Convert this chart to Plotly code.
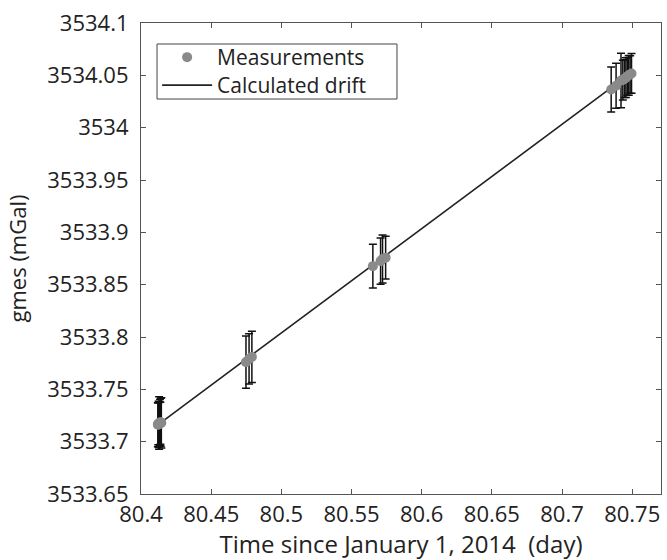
import plotly.graph_objects as go

# Gravity readings (mGal) with their standard deviations, grouped by occupation
t_occ1 = [80.4120, 80.4123, 80.4126, 80.4129, 80.4132, 80.4135, 80.4138, 80.4141, 80.4145]
g_occ1 = [3533.7162, 3533.7170, 3533.7165, 3533.7178, 3533.7172, 3533.7182, 3533.7176, 3533.7186, 3533.7180]
e_occ1 = [0.021, 0.020, 0.022, 0.025, 0.021, 0.022, 0.020, 0.023, 0.024]

t_occ2 = [80.4748, 80.4770, 80.4790]
g_occ2 = [3533.7760, 3533.7790, 3533.7810]
e_occ2 = [0.025, 0.024, 0.0245]

t_occ3 = [80.5652, 80.5707, 80.5721, 80.5743]
g_occ3 = [3533.8677, 3533.8725, 3533.8745, 3533.8758]
e_occ3 = [0.021, 0.022, 0.023, 0.0205]

t_occ4 = [80.7350, 80.7385, 80.7420, 80.7433, 80.7445, 80.7455, 80.7465, 80.7475, 80.7485, 80.7495]
g_occ4 = [3534.0365, 3534.0400, 3534.0450, 3534.0455, 3534.0468, 3534.0478, 3534.0490, 3534.0500, 3534.0508, 3534.0518]
e_occ4 = [0.0215, 0.0215, 0.026, 0.019, 0.018, 0.019, 0.018, 0.019, 0.018, 0.019]

# Linear drift line (end points)
drift_t = [80.4120, 80.7495]
drift_g = [3533.7161, 3534.0526]

x_tickvals = [80.4, 80.45, 80.5, 80.55, 80.6, 80.65, 80.7, 80.75]
x_ticktext = ["80.4", "80.45", "80.5", "80.55", "80.6", "80.65", "80.7", "80.75"]
y_tickvals = [3533.65, 3533.7, 3533.75, 3533.8, 3533.85, 3533.9, 3533.95, 3534.0, 3534.05, 3534.1]
y_ticktext = ["3533.65", "3533.7", "3533.75", "3533.8", "3533.85", "3533.9", "3533.95", "3534", "3534.05", "3534.1"]

t_all = t_occ1 + t_occ2 + t_occ3 + t_occ4
g_all = g_occ1 + g_occ2 + g_occ3 + g_occ4
e_all = e_occ1 + e_occ2 + e_occ3 + e_occ4

FONT = "Open Sans"
FS = 22
LEGEND_FS = 21
AXIS_COLOR = "#555555"
TEXT_COLOR = "#222222"

fig = go.Figure()

# fitted drift line first so the measurement markers sit on top of it
fig.add_trace(go.Scatter(
    x=drift_t, y=drift_g, mode="lines", name="Calculated drift",
    line=dict(color="#222222", width=1.6),
    legend="legend2",
))

fig.add_trace(go.Scatter(
    x=t_all, y=g_all, mode="markers", name="Measurements",
    marker=dict(color="#8a8a8a", size=10, line=dict(width=0)),
    error_y=dict(type="data", array=e_all, visible=True,
                 color="#111111", thickness=1.5, width=4),
    legend="legend",
))

axis_common = dict(
    showline=True, linecolor=AXIS_COLOR, linewidth=1.2, mirror="ticks",
    ticks="inside", ticklen=5, tickwidth=1, tickcolor=AXIS_COLOR,
    showgrid=False, zeroline=False,
    tickfont=dict(family=FONT, size=FS, color=TEXT_COLOR),
)

legend_common = dict(
    xanchor="left", yanchor="top", x=0.031,
    bgcolor="rgba(0,0,0,0)", borderwidth=0,
    font=dict(family=FONT, size=LEGEND_FS, color=TEXT_COLOR),
    itemwidth=50,
)

fig.update_layout(
    width=667, height=560, autosize=False,
    margin=dict(l=141, r=6, t=23, b=66),
    paper_bgcolor="white", plot_bgcolor="white",
    font=dict(family=FONT, size=FS, color=TEXT_COLOR),
    showlegend=True,
    legend=dict(y=0.9703, **legend_common),
    legend2=dict(y=0.9108, **legend_common),
    # legend frame enclosing both entries
    shapes=[dict(
        type="rect", xref="paper", yref="paper",
        x0=0.0308, x1=0.4923, y0=0.8386, y1=0.9554,
        line=dict(color="#444444", width=1), fillcolor="white", layer="above",
    )],
    xaxis=dict(
        range=[80.4, 80.7705],
        tickvals=x_tickvals, ticktext=x_ticktext,
        ticklabelstandoff=0,
        title=dict(text="Time since January 1, 2014  (day)", font=dict(family=FONT, size=24), standoff=1),
        **axis_common,
    ),
    yaxis=dict(
        range=[3533.65, 3534.1],
        tickvals=y_tickvals, ticktext=y_ticktext,
        ticklabelstandoff=7,
        title=dict(text="gmes (mGal)", font=dict(family=FONT, size=FS), standoff=14),
        **axis_common,
    ),
)

fig.write_html("out.html")
